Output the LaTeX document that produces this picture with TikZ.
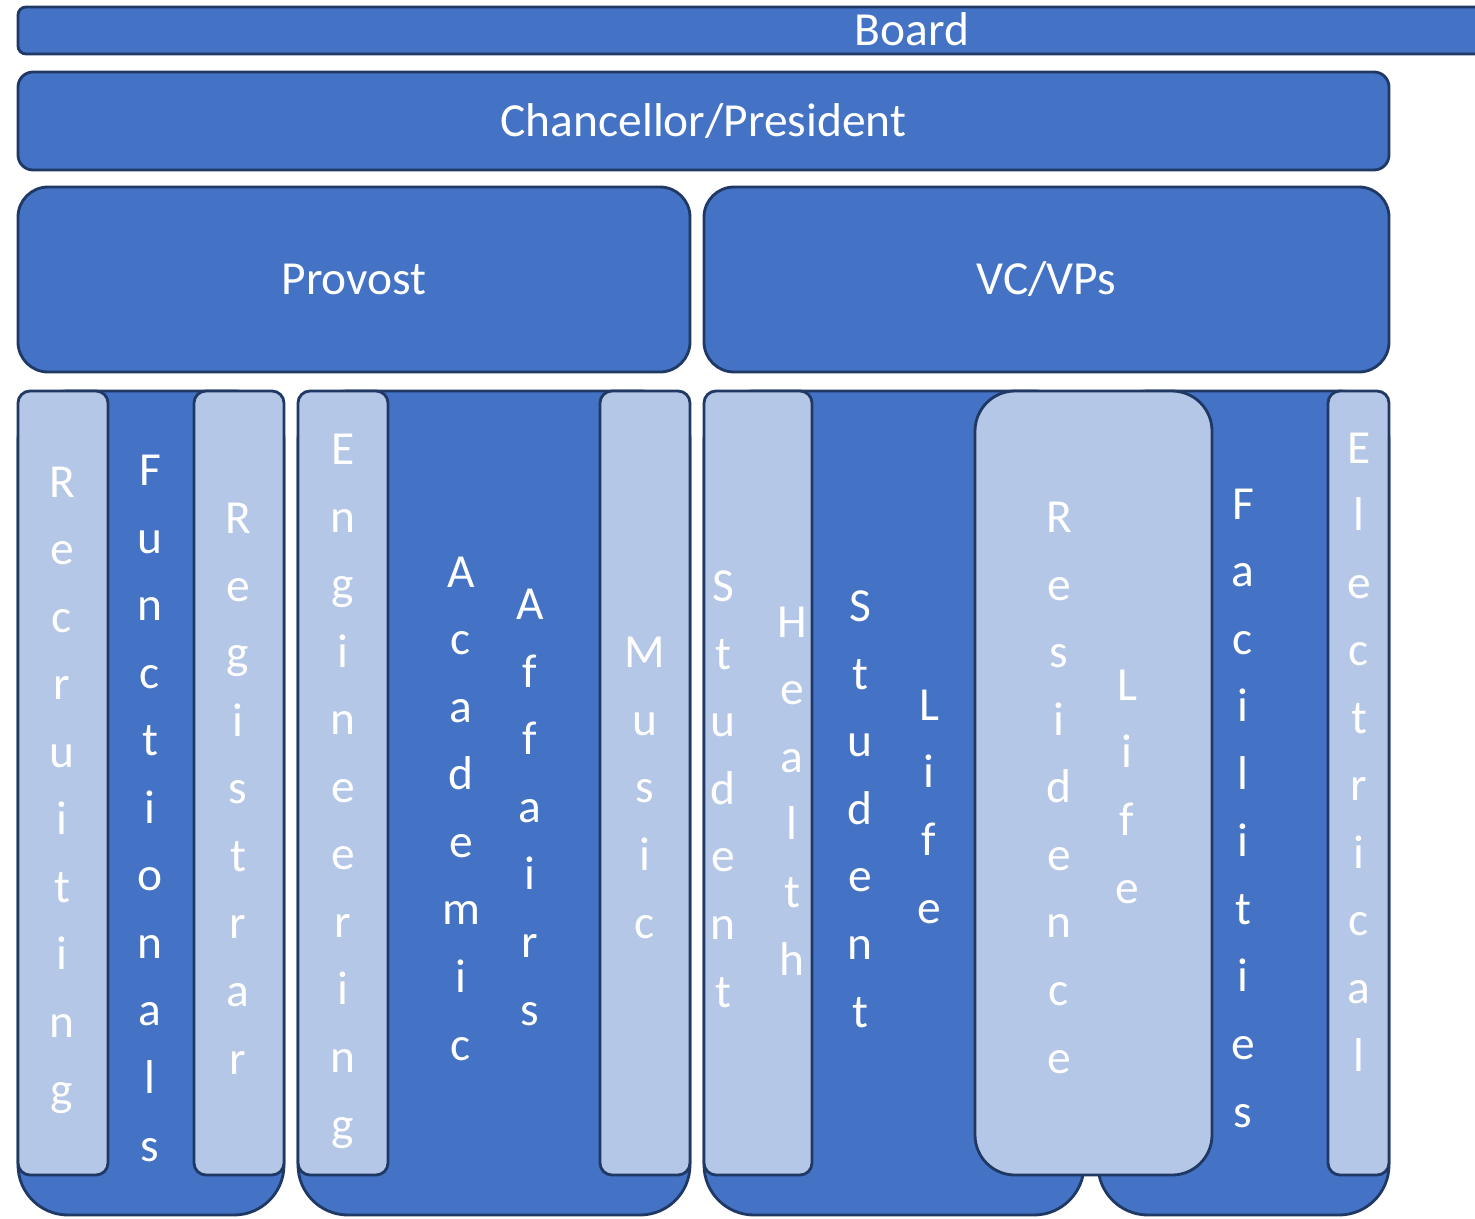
\documentclass[tikz,border=0pt]{standalone}
\usepackage{fontspec}
\setmainfont{Carlito}
\usetikzlibrary{positioning}
\definecolor{unitblue}{HTML}{4472C4}
\definecolor{deptblue}{HTML}{B4C7E7}
\definecolor{edgeblue}{HTML}{1F3864}

\begin{document}
\begin{tikzpicture}[
        every node/.style={inner sep=0pt, outer sep=0pt},
        box/.style={rectangle, draw=edgeblue, line width=0.8pt, anchor=north west},
        banner/.style={box, fill=unitblue, text=white,
            font=\fontsize{13.5}{16}\selectfont, text height=0.306cm, text depth=0pt},
        unit/.style={box, fill=unitblue, rounded corners=0.5cm,
            minimum width=#1, minimum height=8.24cm},
        dept/.style={box, fill=deptblue, rounded corners=0.12cm,
            minimum width=#1, minimum height=7.84cm},
        column/.style={text=white, align=center, anchor=base,
            font=\fontsize{13.5}{19.22}\selectfont}
    ]
    \useasboundingbox (0,0) rectangle (14.75,-12.18);

%%
% Governance levels
    \node (board) [banner, rounded corners=0.08cm, minimum width=17.88cm, minimum height=0.47cm] at (0.18,-0.07) {Board};
    \node (chancellor) [banner, rounded corners=0.15cm, minimum width=13.71cm, minimum height=0.98cm] at (0.18,-0.72) {Chancellor/President};
    \node (provost) [banner, rounded corners=0.3cm, minimum width=6.72cm, minimum height=1.85cm] at (0.18,-1.87) {Provost};
    \node (vcvp) [banner, rounded corners=0.3cm, minimum width=6.85cm, minimum height=1.85cm, right=0.14cm of provost] {VC/VPs};

%%
% Units under Provost and VC/VPs
    \node (unitA) [unit=2.66cm] at (0.18,-3.91) {};
    \node (unitB) [unit=3.92cm] at (2.98,-3.91) {};
    \node (unitC) [unit=3.80cm] at (7.04,-3.91) {};
    \node (unitD) [unit=2.91cm] at (10.98,-3.91) {};

%%
% Departments inside the units
    \node (recruitbox) [dept=0.90cm] at (0.18,-3.91) {};
    \node (registrarbox) [dept=0.90cm] at (1.94,-3.91) {};
    \node (engbox) [dept=0.90cm] at (2.98,-3.91) {};
    \node (musicbox) [dept=0.90cm] at (6.00,-3.91) {};
    \node (healthbox) [dept=1.08cm] at (7.04,-3.91) {};
    \node (residencebox) [dept=2.37cm, rounded corners=0.4cm] at (9.75,-3.91) {};
    \node (electricalbox) [dept=0.61cm] at (13.28,-3.91) {};

%%
% Stacked labels, one letter a line
% (base anchor sits on the last letter)
    \node (recruiting) [column] at (0.62,-11.05) {R\\e\\c\\r\\u\\i\\t\\i\\n\\g};
    \node (functionals) [column] at (1.50,-11.61) {F\\u\\n\\c\\t\\i\\o\\n\\a\\l\\s};
    \node (registrar) [column] at (2.38,-10.74) {R\\e\\g\\i\\s\\t\\r\\a\\r};
    \node (engineering) [column] at (3.43,-11.40) {E\\n\\g\\i\\n\\e\\e\\r\\i\\n\\g};
    \node (academic) [column] at (4.61,-10.60) {A\\c\\a\\d\\e\\m\\i\\c};
    \node (affairs) [column] at (5.30,-10.25) {A\\f\\f\\a\\i\\r\\s};
    \node (music) [column] at (6.45,-9.38) {M\\u\\s\\i\\c};
    \node (stuhealth) [column] at (7.23,-10.07) {S\\t\\u\\d\\e\\n\\t};
    \node (health) [column] at (7.92,-9.75) {H\\e\\a\\l\\t\\h};
    \node (stulife) [column] at (8.60,-10.27) {S\\t\\u\\d\\e\\n\\t};
    \node (life) [column] at (9.29,-9.23) {L\\i\\f\\e};
    \node (residence) [column] at (10.59,-10.73) {R\\e\\s\\i\\d\\e\\n\\c\\e};
    \node (reslife) [column] at (11.27,-9.03) {L\\i\\f\\e};
    \node (facilities) [column] at (12.43,-11.27) {F\\a\\c\\i\\l\\i\\t\\i\\e\\s};
    \node (electrical) [column] at (13.59,-10.71) {E\\l\\e\\c\\t\\r\\i\\c\\a\\l};

\end{tikzpicture}
\end{document}
